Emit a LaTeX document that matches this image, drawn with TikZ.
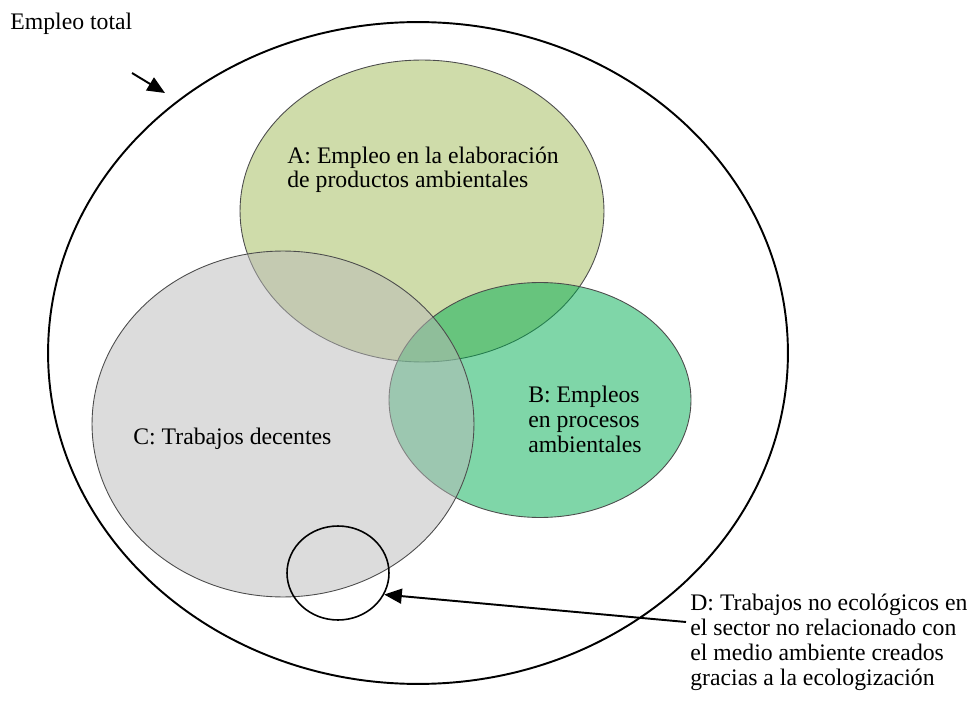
\documentclass[tikz,border=0pt]{standalone}
\usepackage{fontspec}
\setmainfont{Liberation Serif}
\usetikzlibrary{shapes.geometric,arrows.meta}
\definecolor{colA}{RGB}{159,185,85}
\definecolor{colB}{RGB}{0,173,81}
\definecolor{colC}{RGB}{185,185,185}
\begin{document}
\begin{tikzpicture}[x=0.02cm,y=-0.02cm]
  \tikzset{ e/.style={ellipse,draw=black!70,line width=0.5pt,fill opacity=0.5,inner sep=0pt},
    t/.style={anchor=base west,align=left,inner sep=0pt,font=\fontsize{13.5}{14.2}\selectfont},
    a/.style={-{Triangle[length=10pt,width=8.5pt]},line width=1.1pt},
  }
  \useasboundingbox (0,0) rectangle (977,716);
  \node[ellipse,draw,line width=1.1pt,inner sep=0pt,minimum width=14.8cm,minimum height=13.24cm] (total) at (418,353) {};
  \node[e,fill=colA,minimum width=7.28cm,minimum height=6.04cm] (A) at (422,211) {};
  \node[e,fill=colB,minimum width=6.04cm,minimum height=4.70cm] (B) at (540,400) {};
  \node[e,fill=colC,minimum width=7.64cm,minimum height=6.92cm] (C) at (283,424) {};
  \node[ellipse,draw,line width=0.9pt,inner sep=0pt,minimum width=2.04cm,minimum height=1.88cm] (D) at (338,573) {};

  % the labels (base = last line)
  \node[t] (lt) at (10,30) {Empleo total};
  \node[t] (lA) at (287,188) {A: Empleo en la elaboración\\de productos ambientales};
  \node[t] (lB) at (528,452) {B: Empleos\\en procesos\\ambientales};
  \node[t] (lC) at (133,444) {C: Trabajos decentes};
  \node[t] (lD) at (690,685) {D: Trabajos no ecológicos en\\el sector no relacionado con\\el medio ambiente creados\\gracias a la ecologización};

  % the arrows
  \coordinate (s1) at (132,73);
  \coordinate (e1) at (165,93);
  \coordinate (s2) at (686,622);
  \draw[a] (s1) -- (e1);
  \draw[a] (s2) -- (D.-25);
\end{tikzpicture}
\end{document}
